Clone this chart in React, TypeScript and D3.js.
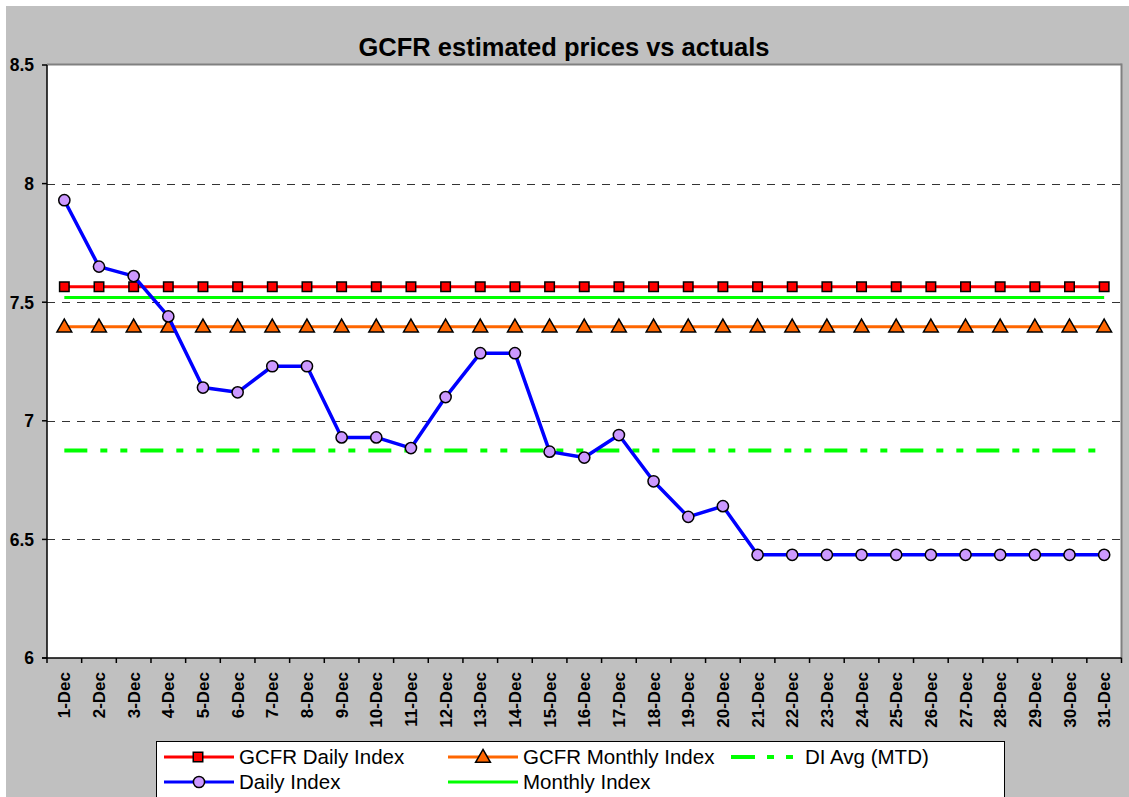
import React from "react";
import * as d3 from "d3";

const days = d3.range(1, 32).map(d => `${d}-Dec`);
const dailyIndex = [
  7.93, 7.65, 7.61, 7.44, 7.14, 7.12, 7.23, 7.23, 6.93, 6.93, 6.885, 7.1, 7.285,
  7.285, 6.87, 6.845, 6.94, 6.745, 6.595, 6.64, 6.435, 6.435, 6.435, 6.435,
  6.435, 6.435, 6.435, 6.435, 6.435, 6.435, 6.435
];
const gcfrDaily = days.map(() => 7.565);
const gcfrMonthly = days.map(() => 7.397);
const monthlyIndex = days.map(() => 7.52);
const diAvg = days.map(() => 6.875);
const yTicks = [6, 6.5, 7, 7.5, 8, 8.5];
const gridTicks = [6.5, 7, 7.5, 8];

const W = 1129;
const H = 797;
const plot = { left: 47, right: 1121.5, top: 65, bottom: 658 };
const font = "'Liberation Sans', Arial, sans-serif";
const diDash = "23,13,7,13,7,13";

const x = d3.scaleBand().domain(days).range([plot.left, plot.right]).padding(0);
const cx = (d: string) => (x(d) as number) + x.bandwidth() / 2;
const y = d3.scaleLinear().domain([6, 8.5]).range([plot.bottom, plot.top]);

const line = d3
  .line<number>()
  .x((_, i) => cx(days[i]))
  .y(v => y(v));

const square = d3.symbol().type(d3.symbolSquare).size(90)();
const triangle = d3.symbol().type(d3.symbolTriangle).size(95)();

const fmt = (v: number) => (v === 6 || v === 7 || v === 8 ? String(v) : String(v));

const App = () => {
  const legendRows = [
    { x: 164, y: 757, label: "GCFR Daily Index", color: "#ff0000", marker: "square" },
    { x: 448, y: 757, label: "GCFR Monthly Index", color: "#ff6600", marker: "triangle" },
    { x: 732, y: 757, label: "DI Avg (MTD)", color: "#00ff00", marker: "dash" },
    { x: 164, y: 782, label: "Daily Index", color: "#0000ff", marker: "circle" },
    { x: 448, y: 782, label: "Monthly Index", color: "#00ff00", marker: "none" }
  ];

  return (
    <svg
      width={W}
      height={H}
      style={{ position: "absolute", left: 0, top: 0, display: "block" }}
      fontFamily={font}
    >
      <rect x={0} y={0} width={W} height={H} fill="#ffffff" />
      <rect x={6} y={6} width={W - 6} height={H - 6} fill="#c0c0c0" />

      <text x={564} y={56} textAnchor="middle" fontSize={25.5} fontWeight="bold" fill="#000">
        GCFR estimated prices vs actuals
      </text>

      {/* plot area */}
      <rect
        x={plot.left}
        y={plot.top}
        width={plot.right - plot.left}
        height={plot.bottom - plot.top}
        fill="#ffffff"
      />
      <line x1={plot.left} x2={plot.right} y1={plot.top - 0.5} y2={plot.top - 0.5} stroke="#808080" strokeWidth={2} />
      <line x1={plot.right} x2={plot.right} y1={plot.top - 1.5} y2={plot.bottom} stroke="#808080" strokeWidth={2} />

      {gridTicks.map(t => (
        <line
          key={t}
          x1={plot.left}
          x2={plot.right - 1}
          y1={Math.round(y(t)) + 0.5}
          y2={Math.round(y(t)) + 0.5}
          stroke="#333"
          strokeWidth={1}
          strokeDasharray="8,7"
        />
      ))}

      {/* axes */}
      <line x1={plot.left} x2={plot.left} y1={plot.top} y2={plot.bottom} stroke="#000" strokeWidth={1.5} />
      <line x1={plot.left - 5} x2={plot.right} y1={plot.bottom} y2={plot.bottom} stroke="#000" strokeWidth={1.5} />
      {yTicks.map(t => (
        <g key={t}>
          <line x1={plot.left - 5} x2={plot.left} y1={y(t)} y2={y(t)} stroke="#000" strokeWidth={1.5} />
          <text x={34} y={y(t)} dy="0.36em" textAnchor="end" fontSize={17.5} fontWeight="bold">
            {fmt(t)}
          </text>
        </g>
      ))}
      {days.map(d => (
        <line
          key={d}
          x1={x(d) as number}
          x2={x(d) as number}
          y1={plot.bottom}
          y2={plot.bottom + 5}
          stroke="#000"
          strokeWidth={1.5}
        />
      ))}
      <line x1={plot.right} x2={plot.right} y1={plot.bottom} y2={plot.bottom + 5} stroke="#000" strokeWidth={1.5} />
      {days.map(d => (
        <text
          key={d}
          transform={`translate(${cx(d)},672) rotate(-90)`}
          textAnchor="end"
          dy="0.36em"
          fontSize={17}
          fontWeight="bold"
        >
          {d}
        </text>
      ))}

      {/* series */}
      <path d={line(diAvg) || ""} fill="none" stroke="#00ff00" strokeWidth={4} strokeDasharray={diDash} />
      <path d={line(monthlyIndex) || ""} fill="none" stroke="#00ff00" strokeWidth={3} />
      <path d={line(gcfrMonthly) || ""} fill="none" stroke="#ff6600" strokeWidth={3} />
      {gcfrMonthly.map((v, i) => (
        <path
          key={i}
          d={triangle || ""}
          transform={`translate(${cx(days[i])},${y(v) + 1})`}
          fill="#ff6600"
          stroke="#000"
          strokeWidth={1.5}
        />
      ))}
      <path d={line(gcfrDaily) || ""} fill="none" stroke="#ff0000" strokeWidth={3} />
      {gcfrDaily.map((v, i) => (
        <path
          key={i}
          d={square || ""}
          transform={`translate(${cx(days[i])},${y(v)})`}
          fill="#ff0000"
          stroke="#000"
          strokeWidth={1.5}
        />
      ))}
      <path d={line(dailyIndex) || ""} fill="none" stroke="#0000ff" strokeWidth={3.5} strokeLinejoin="round" />
      {dailyIndex.map((v, i) => (
        <circle key={i} cx={cx(days[i])} cy={y(v)} r={5.6} fill="#cc99ff" stroke="#000" strokeWidth={1.5} />
      ))}

      {/* legend */}
      <rect x={156.5} y={741.5} width={848} height={70} fill="#ffffff" stroke="#000" strokeWidth={1} />
      {legendRows.map(r => (
        <g key={r.label}>
          {r.marker === "dash" ? (
            <line
              x1={r.x - 1}
              x2={r.x + 63}
              y1={r.y}
              y2={r.y}
              stroke={r.color}
              strokeWidth={4}
              strokeDasharray="24,12,7,12,7,12"
            />
          ) : (
            <line x1={r.x} x2={r.x + 70} y1={r.y} y2={r.y} stroke={r.color} strokeWidth={3} />
          )}
          {r.marker === "square" && (
            <path d={square || ""} transform={`translate(${r.x + 34},${r.y})`} fill="#ff0000" stroke="#000" strokeWidth={1.5} />
          )}
          {r.marker === "triangle" && (
            <path d={triangle || ""} transform={`translate(${r.x + 35},${r.y + 1})`} fill="#ff6600" stroke="#000" strokeWidth={1.5} />
          )}
          {r.marker === "circle" && (
            <circle cx={r.x + 35} cy={r.y} r={5.6} fill="#cc99ff" stroke="#000" strokeWidth={1.5} />
          )}
          <text x={r.marker === "dash" ? r.x + 73 : r.x + 75} y={r.y} dy="0.36em" fontSize={20.5} fill="#000">
            {r.label}
          </text>
        </g>
      ))}
    </svg>
  );
};

export default App;
